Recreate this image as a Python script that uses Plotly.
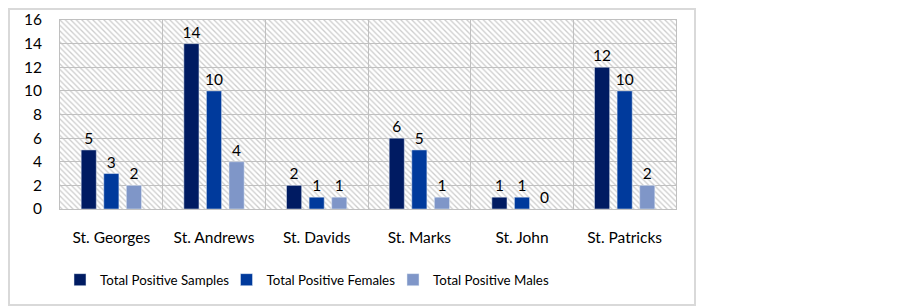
import base64
import plotly.graph_objects as go

categories = ["St. Georges", "St. Andrews", "St. Davids", "St. Marks", "St. John", "St. Patricks"]
samples = [5, 14, 2, 6, 1, 12]
females = [3, 10, 1, 5, 1, 10]
males = [2, 4, 1, 1, 0, 2]
series_names = ["Total Positive Samples", "Total Positive Females", "Total Positive Males"]
colors = ["#001B62", "#003A9C", "#7F96C8"]

# page body has an 8px margin, so figure coords = window coords - 8
OFF = 8
W, H = 903, 308
L, T = 60 - OFF, 20 - OFF
R, B = W - (676 - OFF), H - (209 - OFF)
pw, ph = W - L - R, H - T - B

# hatch background (wide downward diagonal)
s = 5.5
svg = (
    f'<svg xmlns="http://www.w3.org/2000/svg" width="{pw}" height="{ph}" '
    f'viewBox="0 0 {pw} {ph}" preserveAspectRatio="none">'
    f'<defs><pattern id="h" width="{s}" height="{s}" patternUnits="userSpaceOnUse">'
    f'<path d="M-1,-1 L{s+1},{s+1} M-1,{s-1} L1,{s+1} M{s-1},-1 L{s+1},1" '
    f'stroke="#cdcdcd" stroke-width="1.3"/></pattern></defs>'
    f'<rect width="100%" height="100%" fill="white"/>'
    f'<rect width="100%" height="100%" fill="url(#h)"/></svg>'
)
src = "data:image/svg+xml;base64," + base64.b64encode(svg.encode()).decode()

font = "Lato, 'Open Sans', sans-serif"
fig = go.Figure()
for name, vals, col in zip(series_names, [samples, females, males], colors):
    fig.add_trace(go.Bar(
        x=categories, y=vals, name=name, marker_color=col,
        text=vals, texttemplate="%{y}", textposition="outside", constraintext="none",
        textfont=dict(size=15.5, color="#000000", family=font), cliponaxis=False,
    ))

grid = "#c0c0c0"
fig.update_layout(
    width=W, height=H,
    margin=dict(l=L, r=R, t=T, b=B, autoexpand=False),
    paper_bgcolor="white", plot_bgcolor="rgba(0,0,0,0)",
    font=dict(family=font, size=15.5, color="#000000"),
    barmode="group", bargap=0.34, bargroupgap=0.33,
    showlegend=True,
    legend=dict(orientation="h", x=0 / pw, xanchor="left",
                y=-(280 - 209) / ph, yanchor="middle",
                font=dict(size=13.3, family=font), entrywidth=121.5, entrywidthmode="pixels",
                itemwidth=30, traceorder="normal", bgcolor="rgba(0,0,0,0)"),
    images=[dict(source=src, xref="paper", yref="paper", x=0, y=1, sizex=1, sizey=1,
                 sizing="stretch", xanchor="left", yanchor="top", layer="below")],
    shapes=[dict(type="rect", xref="paper", yref="paper",
                 x0=(1 - L) / pw, x1=(695 - OFF - L) / pw,
                 y0=(T + ph - (305 - OFF)) / ph, y1=(T + ph - 1) / ph,
                 line=dict(color="#d9d9d9", width=2), fillcolor="rgba(0,0,0,0)", layer="below")],
)
fig.update_xaxes(
    tickson="boundaries", showgrid=True, gridcolor=grid, gridwidth=1,
    showline=True, mirror=True, linecolor=grid, linewidth=1,
    ticks="", ticklabelstandoff=14,
    tickfont=dict(size=15.5), fixedrange=True,
)
fig.update_yaxes(
    range=[0, 16], dtick=2, showgrid=True, gridcolor=grid, gridwidth=1,
    showline=True, mirror=True, linecolor=grid, linewidth=1,
    ticks="outside", ticklen=14, tickcolor="rgba(0,0,0,0)",
    tickfont=dict(size=15.5), zeroline=False, fixedrange=True,
)

fig.write_html("out.html")
